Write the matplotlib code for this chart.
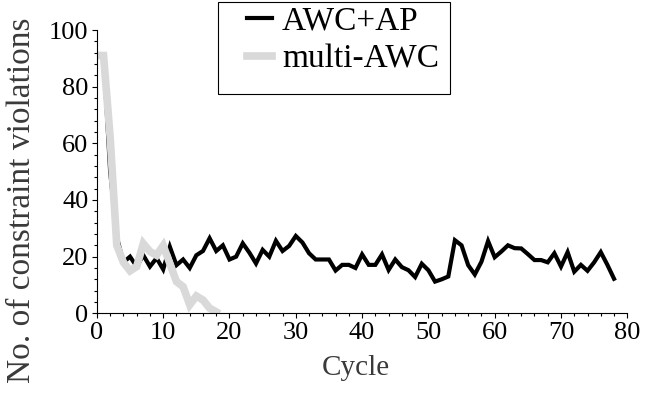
"""
    Constraint violations per cycle: AWC+AP vs multi-AWC
"""

import numpy as np
import matplotlib as mpl
import matplotlib.pyplot as plt
from matplotlib.ticker import MultipleLocator
from matplotlib.lines import Line2D
from matplotlib.patches import Rectangle


#########################################################
# Data
#########################################################

cycles_awc_ap = np.arange(0, 79)
violations_awc_ap = [
    91, 91, 50, 27, 18, 20, 16.5, 20.5, 16.5, 19.5,
    15.5, 23.5, 17, 19, 16, 20.5, 22, 26.5, 22, 24,
    19, 20, 24.7, 21.4, 17.6, 22.4, 20, 25.6, 22, 23.8,
    27.3, 25, 21.2, 19, 19, 19, 15.1, 17.1, 17.1, 16,
    20.8, 17.1, 17.1, 20.8, 15.3, 19, 16.3, 15.2, 12.8, 17.5,
    15.2, 11.2, 12, 13, 25.8, 24, 17, 13.7, 18.2, 25.5,
    19.8, 21.8, 24, 23, 22.9, 20.9, 18.8, 18.8, 18, 21.2,
    16.5, 21.6, 14.7, 17.1, 15, 18, 21.6, 17.1, 12.2,
]

cycles_multi_awc = np.arange(0, 19)
violations_multi_awc = [
    91, 91, 62, 24, 18, 15, 16.5, 24.6, 21.8, 20.5,
    23.9, 17.6, 11.2, 9.4, 3, 6.1, 4.7, 1.8, 0.5,
]

series_labels = ["AWC+AP", "multi-AWC"]
series_colors = ["black", "#d9d9d9"]
series_widths = [3.0, 5.5]

x_ticks = np.arange(0, 81, 10)
y_ticks = np.arange(0, 101, 20)


#########################################################
# Plotting parameters
#########################################################

mpl.rcParams["font.family"] = ["Liberation Serif", "DejaVu Serif"]
mpl.rcParams["font.size"] = 19
mpl.rcParams["axes.spines.top"] = False
mpl.rcParams["axes.spines.right"] = False
mpl.rcParams["axes.linewidth"] = 0.8
mpl.rcParams["xtick.direction"] = "out"
mpl.rcParams["ytick.direction"] = "out"

fig = plt.figure(figsize=(6.61, 3.96), dpi=100)
ax = fig.add_axes([0.1466, 0.2088, 0.8024, 0.7154])

# black first, grey drawn over it
ax.plot(cycles_awc_ap, violations_awc_ap, color=series_colors[0],
        linewidth=series_widths[0], solid_joinstyle="miter")
ax.plot(cycles_multi_awc, violations_multi_awc, color=series_colors[1],
        linewidth=series_widths[1], solid_joinstyle="miter")

ax.set_xlim(0, 80)
ax.set_ylim(0, 100)
ax.set_xticks(x_ticks)
ax.set_yticks(y_ticks)
ax.xaxis.set_minor_locator(MultipleLocator(2))
ax.yaxis.set_minor_locator(MultipleLocator(4))
ax.tick_params(which="major", length=3.6, width=0.8, labelsize=19, pad=2.6)
ax.tick_params(which="minor", length=2.2, width=0.8)

ax.set_xlabel("Cycle", fontsize=21, color="#3a3a3a", va="center")
ax.xaxis.set_label_coords((356 - 96.9) / 530.4, -0.193)
ax.set_ylabel("No. of constraint violations", fontsize=24, color="#3a3a3a",
              va="center")
ax.yaxis.set_label_coords(-0.141, 0.40)

# legend: entries without frame, frame drawn as a plain box
handles = [
    Line2D([], [], color=c, linewidth=w)
    for c, w in zip(series_colors, series_widths)
]
fig.legend(
    handles,
    series_labels,
    loc="upper left",
    bbox_to_anchor=(247 / 661, 1 - 6 / 396),
    bbox_transform=fig.transFigure,
    frameon=False,
    fontsize=24,
    handlelength=0.75,
    handletextpad=0.3,
    labelspacing=0.23,
    borderpad=0,
    borderaxespad=0,
)
fig.patches.append(
    Rectangle(
        (218 / 661, 1 - 94 / 396),
        (450 - 218) / 661,
        (94 - 1.7) / 396,
        transform=fig.transFigure,
        fill=False,
        edgecolor="black",
        linewidth=0.8,
    )
)

fig.savefig("out.png", dpi=100)
